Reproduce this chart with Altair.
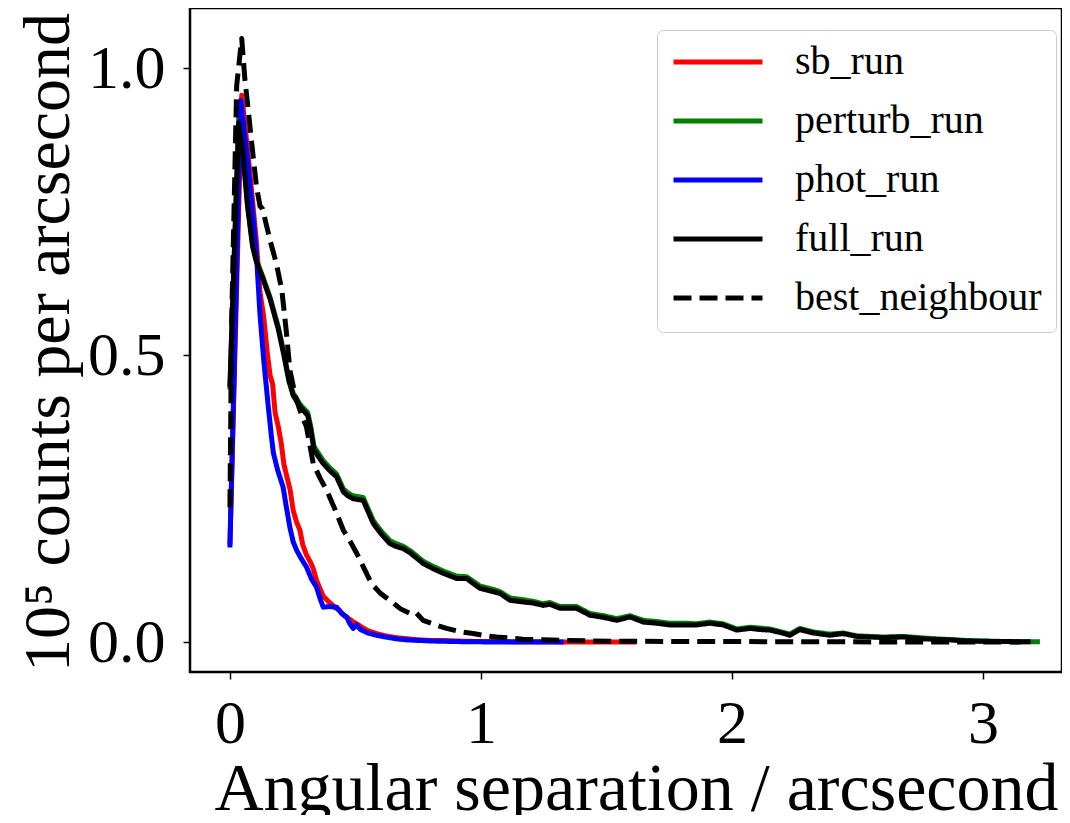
import altair as alt
import pandas as pd

# ---- data ----
series_names = ["sb_run", "perturb_run", "phot_run", "full_run", "best_neighbour"]
series_colors = ["#ff0000", "#008000", "#0000ff", "#000000", "#000000"]

sb_x = [0.0, 0.047, 0.07, 0.09, 0.105, 0.12, 0.135, 0.15, 0.16, 0.17, 0.18, 0.193, 0.205,
        0.215, 0.226, 0.24, 0.252, 0.265, 0.279, 0.29, 0.305, 0.32, 0.332, 0.345, 0.36,
        0.372, 0.39, 0.405, 0.42, 0.438, 0.455, 0.47, 0.49, 0.505, 0.53, 0.55, 0.584,
        0.62, 0.66, 0.704, 0.75, 0.8, 0.85, 0.9, 1.0, 1.1, 1.2, 1.3, 1.4, 1.5, 1.62]
sb_y = [0.17, 0.953, 0.86, 0.77, 0.70, 0.61, 0.565, 0.50, 0.465, 0.45, 0.40, 0.375, 0.345,
        0.31, 0.29, 0.265, 0.23, 0.21, 0.195, 0.17, 0.152, 0.14, 0.128, 0.108, 0.092,
        0.08, 0.072, 0.066, 0.06, 0.055, 0.046, 0.042, 0.036, 0.032, 0.025, 0.02, 0.015,
        0.011, 0.008, 0.006, 0.004, 0.003, 0.003, 0.002, 0.001, 0.001, 0.0005, 0.0005,
        0.0003, 0.0002, 0.0001]

phot_x = [0.0, 0.043, 0.07, 0.09, 0.105, 0.12, 0.135, 0.153, 0.165, 0.173, 0.19, 0.212,
          0.225, 0.239, 0.252, 0.266, 0.285, 0.305, 0.325, 0.345, 0.36, 0.372, 0.395,
          0.425, 0.445, 0.465, 0.478, 0.491, 0.505, 0.52, 0.55, 0.584, 0.62, 0.66, 0.704,
          0.8, 0.9, 1.0, 1.1, 1.2, 1.33]
phot_y = [0.165, 0.944, 0.84, 0.75, 0.68, 0.57, 0.49, 0.41, 0.36, 0.33, 0.30, 0.27, 0.235,
          0.20, 0.175, 0.16, 0.145, 0.131, 0.11, 0.096, 0.075, 0.061, 0.062, 0.061, 0.05,
          0.044, 0.032, 0.024, 0.03, 0.022, 0.016, 0.012, 0.009, 0.006, 0.004, 0.002,
          0.001, 0.0005, 0.0003, 0.0002, 0.0001]

full_x = [0.0, 0.035, 0.05, 0.07, 0.09, 0.104, 0.13, 0.16, 0.193, 0.215, 0.235, 0.252,
          0.28, 0.31, 0.322, 0.335, 0.35, 0.372, 0.4, 0.425, 0.452, 0.47, 0.491, 0.531,
          0.55, 0.571, 0.6, 0.637, 0.66, 0.691, 0.72, 0.77, 0.81, 0.85, 0.903, 0.943,
          0.97, 0.996, 1.049, 1.076, 1.116, 1.169, 1.21, 1.248, 1.275, 1.315, 1.381, 1.434,
          1.49, 1.541, 1.594, 1.647, 1.70, 1.753, 1.81, 1.859, 1.912, 1.965, 2.019, 2.072,
          2.11, 2.151, 2.2, 2.231, 2.271, 2.324, 2.39, 2.443, 2.497, 2.55, 2.603, 2.683,
          2.75, 2.802, 2.87, 2.935, 3.0, 3.1, 3.19]
full_y = [0.445, 0.905, 0.86, 0.76, 0.69, 0.665, 0.635, 0.598, 0.545, 0.50, 0.455, 0.43,
          0.41, 0.395, 0.37, 0.335, 0.325, 0.311, 0.298, 0.288, 0.262, 0.255, 0.25, 0.247,
          0.228, 0.207, 0.19, 0.172, 0.167, 0.163, 0.155, 0.137, 0.128, 0.12, 0.111, 0.111,
          0.102, 0.094, 0.088, 0.085, 0.073, 0.07, 0.068, 0.064, 0.066, 0.059, 0.059, 0.047,
          0.043, 0.038, 0.044, 0.035, 0.033, 0.030, 0.030, 0.030, 0.033, 0.030, 0.021, 0.024,
          0.022, 0.021, 0.016, 0.012, 0.022, 0.016, 0.012, 0.015, 0.010, 0.009, 0.008, 0.009,
          0.006, 0.005, 0.004, 0.002, 0.0015, 0.001, 0.0005]

perturb_x = [0.0, 0.035, 0.05, 0.07, 0.09, 0.104, 0.13, 0.16, 0.193, 0.215, 0.235, 0.252,
             0.28, 0.31, 0.322, 0.335, 0.35, 0.372, 0.4, 0.425, 0.452, 0.47, 0.491, 0.531,
             0.55, 0.571, 0.6, 0.637, 0.66, 0.691, 0.72, 0.77, 0.81, 0.85, 0.903, 0.943,
             0.97, 0.996, 1.049, 1.076, 1.116, 1.169, 1.21, 1.248, 1.275, 1.315, 1.381,
             1.434, 1.49, 1.541, 1.594, 1.647, 1.70, 1.753, 1.81, 1.859, 1.912, 1.965,
             2.019, 2.072, 2.151, 2.231, 2.271, 2.324, 2.39, 2.443, 2.497, 2.603, 2.683,
             2.802, 2.935, 3.0, 3.1, 3.227]
perturb_y = [0.44, 0.915, 0.865, 0.765, 0.695, 0.668, 0.638, 0.601, 0.549, 0.504, 0.459,
             0.434, 0.414, 0.400, 0.376, 0.341, 0.331, 0.316, 0.303, 0.293, 0.267, 0.260,
             0.255, 0.252, 0.233, 0.212, 0.195, 0.177, 0.172, 0.167, 0.159, 0.141, 0.132,
             0.124, 0.115, 0.114, 0.106, 0.098, 0.092, 0.088, 0.077, 0.074, 0.071, 0.067,
             0.069, 0.062, 0.062, 0.050, 0.046, 0.041, 0.046, 0.038, 0.036, 0.033, 0.033,
             0.032, 0.035, 0.032, 0.023, 0.026, 0.023, 0.014, 0.024, 0.018, 0.014, 0.016,
             0.011, 0.009, 0.010, 0.006, 0.003, 0.002, 0.001, 0.0005]

best_x = [0.0, 0.007, 0.027, 0.047, 0.06, 0.073, 0.093, 0.106, 0.12, 0.13, 0.16, 0.185,
          0.207, 0.225, 0.239, 0.26, 0.279, 0.305, 0.332, 0.36, 0.385, 0.42, 0.452, 0.48,
          0.505, 0.535, 0.564, 0.6, 0.637, 0.68, 0.717, 0.74, 0.77, 0.82, 0.863, 0.92, 0.969,
          1.02, 1.063, 1.12, 1.167, 1.25, 1.35, 1.45, 1.6, 1.8, 2.0, 2.2, 2.4, 2.6, 2.8, 3.0,
          3.15]
best_y = [0.235, 0.56, 0.97, 1.052, 0.979, 0.927, 0.845, 0.793, 0.76, 0.755, 0.70, 0.66,
          0.613, 0.54, 0.474, 0.43, 0.404, 0.375, 0.311, 0.285, 0.265, 0.23, 0.195, 0.175,
          0.155, 0.128, 0.102, 0.085, 0.073, 0.058, 0.05, 0.052, 0.038, 0.03, 0.024, 0.018,
          0.015, 0.011, 0.009, 0.007, 0.005, 0.004, 0.003, 0.002, 0.0015, 0.001, 0.001,
          0.0008, 0.0006, 0.0004, 0.0003, 0.0002, 0.0001]

x_ticks = [0, 1, 2, 3]
y_ticks = [0.0, 0.5, 1.0]

# ---- build table ----
frames = []
for name, xs, ys in [("sb_run", sb_x, sb_y), ("perturb_run", perturb_x, perturb_y),
                     ("phot_run", phot_x, phot_y), ("full_run", full_x, full_y),
                     ("best_neighbour", best_x, best_y)]:
    frames.append(pd.DataFrame({"sep": xs, "counts": ys, "series": name}))
df = pd.concat(frames, ignore_index=True)

FONT = "Liberation Serif"

color_scale = alt.Scale(domain=series_names, range=series_colors)
dash_scale = alt.Scale(domain=series_names,
                       range=[[1, 0], [1, 0], [1, 0], [1, 0], [18, 8]])

legend = alt.Legend(
    title=None, orient="none", legendX=467, legendY=22,
    symbolType="stroke", symbolSize=7921, symbolStrokeWidth=5,
    clipHeight=36, rowPadding=19, labelFontSize=40, labelFont=FONT,
    labelColor="black", labelOffset=30, padding=14, labelLimit=600,
    strokeColor="#cccccc", fillColor="white", cornerRadius=6,
)

x_enc = alt.X("sep:Q",
              scale=alt.Scale(domain=[-0.159, 3.315], nice=False, zero=False),
              axis=alt.Axis(values=x_ticks, format="d",
                            title="Angular separation / arcsecond",
                            labelBaseline="alphabetic", labelPadding=63,
                            titleBaseline="alphabetic", titleY=137, titleX=446))
y_enc = alt.Y("counts:Q",
              scale=alt.Scale(domain=[-0.052, 1.105], nice=False, zero=False),
              axis=alt.Axis(values=y_ticks, format=".1f",
                            title="10⁵ counts per arcsecond",
                            labelPadding=18, titleFontSize=66,
                            titleBaseline="alphabetic", titleX=-122, titleY=334,
                            titleAngle=-90))

layers = []
for name in series_names:
    layers.append(
        alt.Chart(df)
        .transform_filter(alt.datum.series == name)
        .mark_line(strokeWidth=5, strokeJoin="round")
        .encode(
            x=x_enc,
            y=y_enc,
            color=alt.Color("series:N", scale=color_scale, legend=legend),
            strokeDash=alt.StrokeDash("series:N", scale=dash_scale, legend=legend),
        )
    )

chart = (
    alt.layer(*layers)
    .properties(width=872, height=664,
                padding={"left": 182, "top": 0, "right": 0, "bottom": 143},
                autosize=alt.AutoSizeParams(type="none"))
    .configure_view(stroke="black", strokeWidth=2.5)
    .configure_axis(grid=False, domain=False, tickColor="black", tickWidth=1.5,
                    tickSize=7, labelFont=FONT, labelFontSize=62, labelColor="black",
                    titleFont=FONT, titleFontSize=68, titleColor="black",
                    titleFontWeight="normal")
)

chart.save("out.html", embed_options={"renderer": "svg", "actions": False})
